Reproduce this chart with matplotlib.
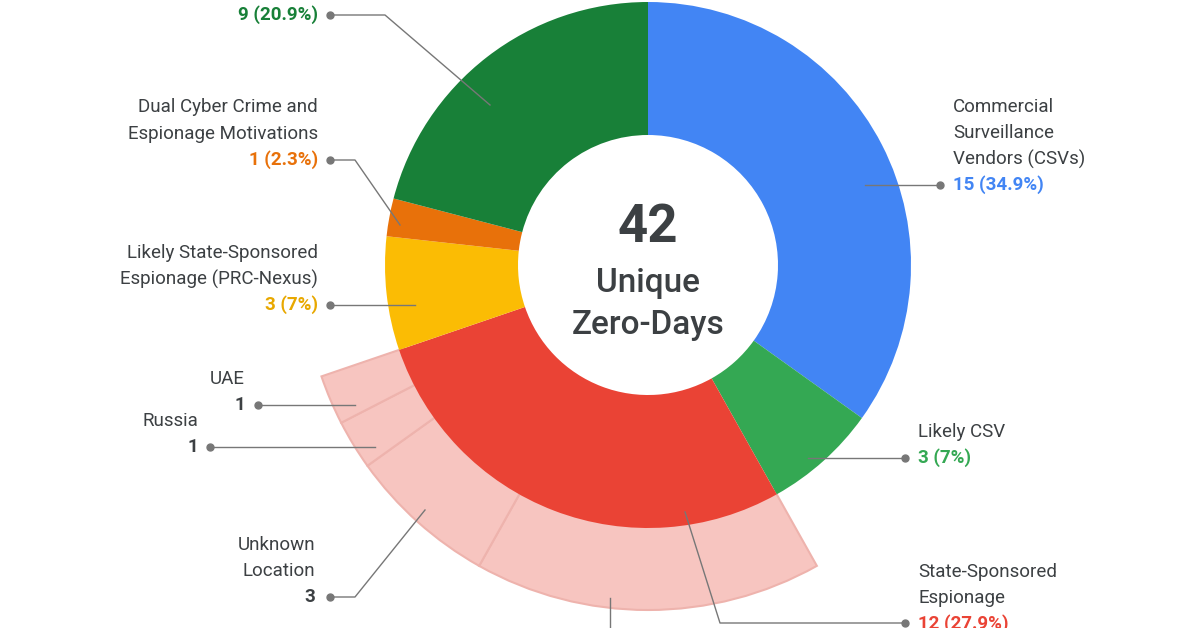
import matplotlib.pyplot as plt

plt.rcParams['font.family'] = ['Roboto', 'DejaVu Sans']

categories = ["Commercial Surveillance Vendors (CSVs)", "Likely CSV", "State-Sponsored Espionage",
              "Likely State-Sponsored Espionage (PRC-Nexus)", "Dual Cyber Crime and Espionage Motivations",
              "Financially Motivated"]
counts = [15, 3, 12, 3, 1, 9]
colors = ["#4285F4", "#34A853", "#EA4335", "#FBBC04", "#E8710A", "#188038"]

sub_labels = ["PRC", "Unknown Location", "Russia", "UAE"]
sub_counts = [7, 3, 1, 1]
pink = "#F7C5C0"

W, H = 1200, 628
fig = plt.figure(figsize=(12, 6.28), dpi=100)
ax = fig.add_axes([0, 0, 1, 1])

def Y(y):
    return H - y

cx, cy = 648, Y(265)
R, r_in, R_out = 263, 130, 345
total = sum(counts)

# outer pink ring, only under the state-sponsored slice
start = 90 - 360 * sum(counts[:2]) / total
ring = sub_counts + [total - sum(sub_counts)]
wedges, _ = ax.pie(ring, colors=[pink] * 4 + ["none"], startangle=start, counterclock=False,
                   center=(cx, cy), radius=R_out, frame=True,
                   wedgeprops=dict(width=R_out - R + 5, edgecolor="#eeb3ad", linewidth=1.5))
wedges[-1].set_edgecolor("none")

ax.pie(counts, colors=colors, startangle=90, counterclock=False, center=(cx, cy),
       radius=R, frame=True, wedgeprops=dict(width=R - r_in, linewidth=0))
ax.set_xlim(0, W)
ax.set_ylim(0, H)
ax.set_aspect('equal')
ax.axis('off')

ax.text(cx, Y(228), "42", ha='center', va='center', fontsize=38, fontweight='bold', color="#3c4043")
ax.text(cx, Y(283), "Unique", ha='center', va='center', fontsize=24, fontweight='medium', color="#3c4043")
ax.text(cx, Y(325), "Zero-Days", ha='center', va='center', fontsize=24, fontweight='medium', color="#3c4043")

gray = "#3c4043"
lc = "#777777"
fs = 13.5

def label(lines, value, vcol, x, ys, ha, dot, path):
    for t, y in zip(lines, ys):
        ax.text(x, Y(y), t, ha=ha, va='center', fontsize=fs, color=gray)
    ax.text(x, Y(ys[-1] + 26), value, ha=ha, va='center', fontsize=fs, color=vcol, fontweight='bold')
    pts = [dot] + path
    ax.plot([p[0] for p in pts], [Y(p[1]) for p in pts], color=lc, lw=1)
    ax.plot(dot[0], Y(dot[1]), 'o', color=lc, ms=5)

label([], "9 (20.9%)", colors[5], 318, [-11], 'right', (330, 15), [(385, 15), (490, 105)])
label(["Dual Cyber Crime and", "Espionage Motivations"], "1 (2.3%)", colors[4], 318, [107, 134],
      'right', (330, 160), [(355, 160), (400, 225)])
label(["Likely State-Sponsored", "Espionage (PRC-Nexus)"], "3 (7%)", "#E8A800", 318, [253, 279],
      'right', (330, 305), [(415, 305)])
label(["UAE"], "1", gray, 245, [379], 'right', (258, 405), [(355, 405)])
label(["Russia"], "1", gray, 198, [421], 'right', (210, 447), [(375, 447)])
label(["Unknown", "Location"], "3", gray, 315, [545, 571], 'right', (330, 597),
      [(355, 597), (425, 510)])
label(["Commercial", "Surveillance", "Vendors (CSVs)"], "15 (34.9%)", colors[0], 953, [107, 133, 159],
      'left', (940, 185), [(865, 185)])
label(["Likely CSV"], "3 (7%)", colors[1], 918, [432], 'left', (905, 458), [(808, 458)])
label(["State-Sponsored", "Espionage"], "12 (27.9%)", colors[2], 918, [572, 598],
      'left', (905, 623), [(720, 623), (685, 512)])
ax.plot([610, 610], [Y(598), Y(640)], color=lc, lw=1)

fig.savefig("out.png", dpi=100)
